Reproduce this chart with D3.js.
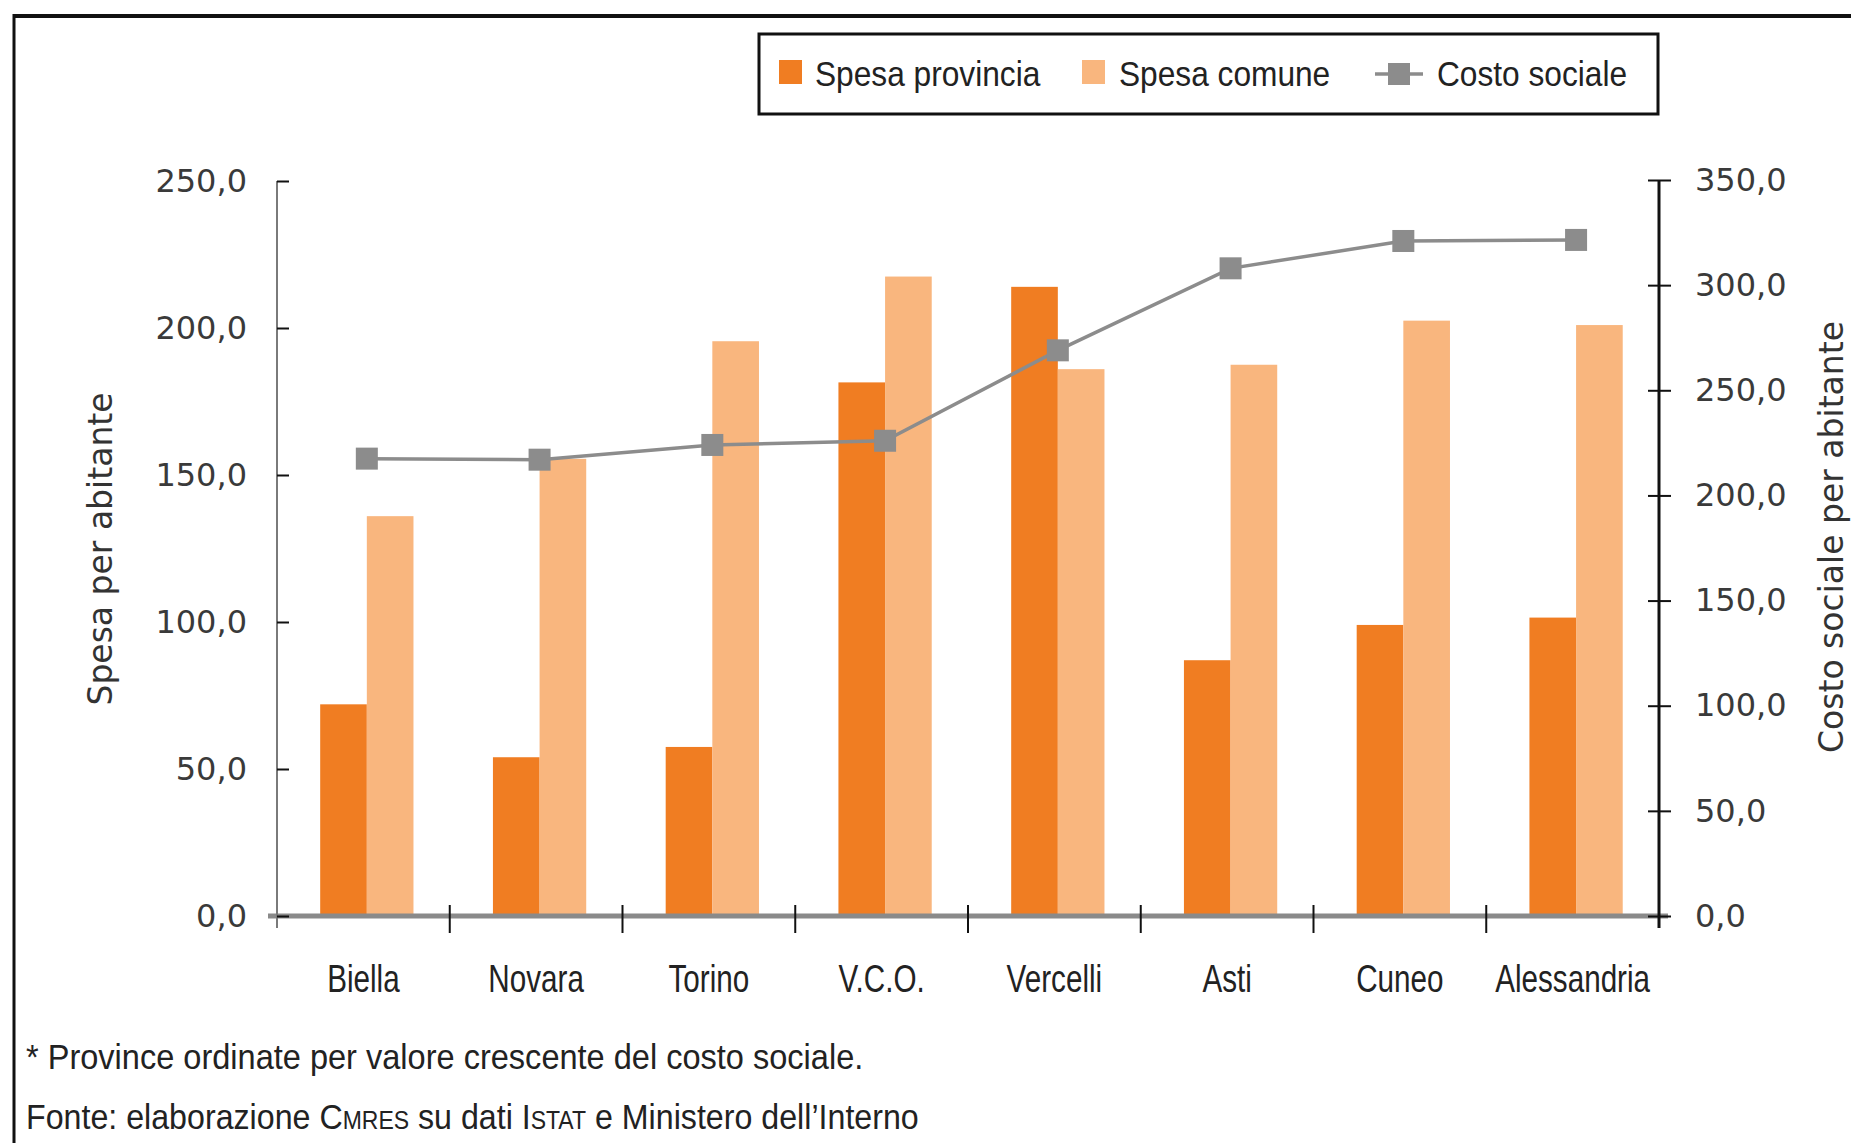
<!DOCTYPE html>
<html>
<head>
<meta charset="utf-8">
<script src="https://cdn.jsdelivr.net/npm/d3@7"></script>
<style>
  body { margin: 0; background: #fff; }
  .narrow { font-family: "Liberation Sans", Arial, sans-serif; }
  .num { font-family: "DejaVu Sans", sans-serif; }
</style>
</head>
<body>
<div id="chart"></div>
<script>
// province ordinate per costo sociale crescente
const provinces = ["Biella", "Novara", "Torino", "V.C.O.", "Vercelli", "Asti", "Cuneo", "Alessandria"];
const spesaProvincia = [72, 54, 57.5, 181.5, 214, 87, 99, 101.5];
const spesaComune = [136, 155.5, 195.5, 217.5, 186, 187.5, 202.5, 201];
const costoSociale = [217.5, 217, 224, 226, 269, 308, 321, 321.5];
const leftTicks = [0, 50, 100, 150, 200, 250];
const rightTicks = [0, 50, 100, 150, 200, 250, 300, 350];
const seriesNames = ["Spesa provincia", "Spesa comune", "Costo sociale"];

const W = 1851, H = 1143;
const colDark = "#f07d22", colLight = "#f9b67e", colLine = "#8c8c8c";
const fmt = d => d3.format(".1f")(d).replace(".", ",");

const svg = d3.select("#chart").append("svg")
    .attr("width", W)
    .attr("height", H);

// frame (top + left)
svg.append("line").attr("x1", 14).attr("x2", W).attr("y1", 16).attr("y2", 16)
    .attr("stroke", "#111").attr("stroke-width", 4);
svg.append("line").attr("x1", 14).attr("x2", 14).attr("y1", 14).attr("y2", H)
    .attr("stroke", "#111").attr("stroke-width", 3);

const x = d3.scaleBand()
    .domain(provinces)
    .range([277, 1659])
    .padding(0);

const yL = d3.scaleLinear().domain([0, 250]).range([916, 181]);
const yR = d3.scaleLinear().domain([0, 350]).range([916, 180]);

const bw = x.bandwidth();
const off = bw * 0.25, barW = bw * 0.27;

// bars
svg.append("g").selectAll("rect")
    .data(provinces)
    .join("rect")
        .attr("x", d => x(d) + off)
        .attr("y", (d, i) => yL(spesaProvincia[i]))
        .attr("width", barW)
        .attr("height", (d, i) => yL(0) - yL(spesaProvincia[i]))
        .attr("fill", colDark);

svg.append("g").selectAll("rect")
    .data(provinces)
    .join("rect")
        .attr("x", d => x(d) + off + barW)
        .attr("y", (d, i) => yL(spesaComune[i]))
        .attr("width", barW)
        .attr("height", (d, i) => yL(0) - yL(spesaComune[i]))
        .attr("fill", colLight);

// x baseline + category ticks
svg.append("line")
    .attr("x1", 268).attr("x2", 1668)
    .attr("y1", yL(0)).attr("y2", yL(0))
    .attr("stroke", "#8a8a8a").attr("stroke-width", 5);

svg.append("g").selectAll("line")
    .data(provinces.slice(1))
    .join("line")
        .attr("x1", d => x(d)).attr("x2", d => x(d))
        .attr("y1", yL(0) - 11).attr("y2", yL(0) + 17)
        .attr("stroke", "#111").attr("stroke-width", 2);

const xAxis = svg.append("g")
    .attr("transform", `translate(0, ${yL(0)})`)
    .call(d3.axisBottom(x).tickSize(0).tickPadding(76));
xAxis.select(".domain").remove();
xAxis.selectAll("text")
    .attr("class", "narrow")
    .attr("dy", 0)
    .attr("font-size", 38)
    .attr("transform", "scale(0.78,1)")
    .attr("fill", "#222");

// left axis
const axL = svg.append("g")
    .attr("transform", "translate(277, 0)")
    .call(d3.axisLeft(yL).tickValues(leftTicks).tickFormat(fmt).tickSizeInner(9).tickSizeOuter(0).tickPadding(21));
axL.select(".domain").attr("stroke", "#7a7a7a").attr("stroke-width", 2)
    .attr("d", `M0,${yL(250)}V${yL(0) + 12}`);
axL.selectAll(".tick line").attr("x2", 12).attr("stroke", "#111").attr("stroke-width", 2);
axL.selectAll(".tick text")
    .attr("class", "num")
    .attr("font-size", 32)
    .attr("fill", "#3a3a3a");

// right axis
const axR = svg.append("g")
    .attr("transform", "translate(1659, 0)")
    .call(d3.axisRight(yR).tickValues(rightTicks).tickFormat(fmt).tickSizeInner(12).tickSizeOuter(0).tickPadding(24));
axR.select(".domain").attr("stroke", "#111").attr("stroke-width", 3)
    .attr("d", `M0,${yR(350)}V${yR(0) + 12}`);
axR.selectAll(".tick line").attr("x1", -11).attr("stroke", "#111").attr("stroke-width", 2);
axR.selectAll(".tick text")
    .attr("class", "num")
    .attr("font-size", 32)
    .attr("fill", "#3a3a3a");

// axis titles
svg.append("text")
    .attr("class", "num")
    .attr("transform", `translate(112, 549) rotate(-90)`)
    .attr("text-anchor", "middle")
    .attr("font-size", 33)
    .attr("fill", "#333")
    .text("Spesa per abitante");

svg.append("text")
    .attr("class", "num")
    .attr("transform", `translate(1843, 537) rotate(-90)`)
    .attr("text-anchor", "middle")
    .attr("font-size", 33)
    .attr("fill", "#333")
    .text("Costo sociale per abitante");

// costo sociale line
const px = d => x(d) + off + barW;
const line = d3.line()
    .x((d, i) => px(provinces[i]))
    .y(d => yR(d));

svg.append("path")
    .datum(costoSociale)
    .attr("fill", "none")
    .attr("stroke", colLine)
    .attr("stroke-width", 3.5)
    .attr("d", line);

const mk = 22;
svg.append("g").selectAll("rect")
    .data(costoSociale)
    .join("rect")
        .attr("x", (d, i) => px(provinces[i]) - mk / 2)
        .attr("y", d => yR(d) - mk / 2)
        .attr("width", mk)
        .attr("height", mk)
        .attr("fill", colLine);

// legend
const lg = svg.append("g");
lg.append("rect")
    .attr("x", 759).attr("y", 34).attr("width", 899).attr("height", 80)
    .attr("fill", "#fff").attr("stroke", "#111").attr("stroke-width", 3);

lg.append("rect").attr("x", 779).attr("y", 60).attr("width", 23).attr("height", 24).attr("fill", colDark);
lg.append("rect").attr("x", 1082).attr("y", 60).attr("width", 23).attr("height", 24).attr("fill", colLight);
lg.append("line").attr("x1", 1375).attr("x2", 1423).attr("y1", 74).attr("y2", 74)
    .attr("stroke", colLine).attr("stroke-width", 3.5);
lg.append("rect").attr("x", 1388).attr("y", 63).attr("width", mk).attr("height", mk).attr("fill", colLine);

const legX = [815, 1119, 1437];
lg.selectAll("text.leg")
    .data(seriesNames)
    .join("text")
        .attr("class", "narrow")
        .attr("transform", (d, i) => `translate(${legX[i]}, 86) scale(0.88,1)`)
        .attr("font-size", 36)
        .attr("fill", "#222")
        .text(d => d);

// notes
svg.append("text")
    .attr("class", "narrow")
    .attr("transform", "translate(26, 1069) scale(0.93,1)")
    .attr("font-size", 35)
    .attr("fill", "#222")
    .text("* Province ordinate per valore crescente del costo sociale.");

const src = svg.append("text")
    .attr("class", "narrow")
    .attr("transform", "translate(26, 1129) scale(0.92,1)")
    .attr("font-size", 35)
    .attr("fill", "#222");
src.append("tspan").text("Fonte: elaborazione ");
src.append("tspan").style("font-variant", "small-caps").text("Cmres");
src.append("tspan").text(" su dati ");
src.append("tspan").style("font-variant", "small-caps").text("Istat");
src.append("tspan").text(" e Ministero dell’Interno");
</script>
</body>
</html>
